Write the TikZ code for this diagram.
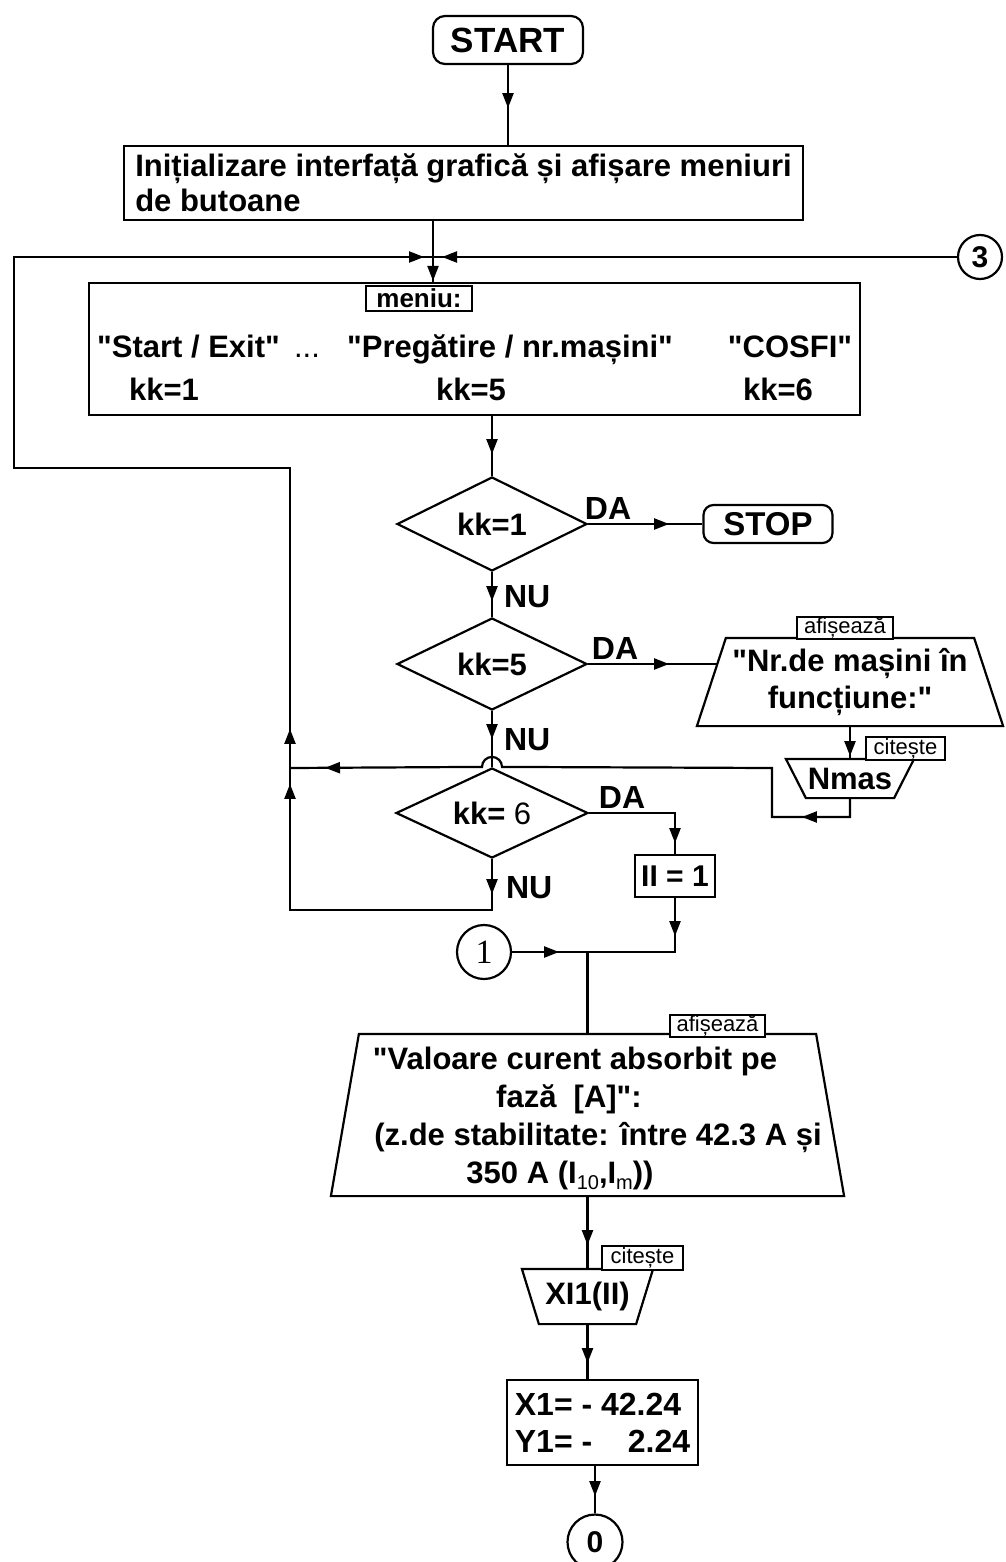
\documentclass[tikz,border=0pt]{standalone}
\usepackage{fontspec}
\setmainfont{Liberation Sans}[Ligatures=TeXOff]
\newfontfamily\numserif{Liberation Serif}
\usetikzlibrary{shapes.geometric,arrows.meta,decorations.markings,calc}

\newcommand{\fsz}[2]{\fontsize{#1}{#2}\selectfont}
\newcommand{\lowsub}[1]{\raisebox{-6pt}{\fsz{20}{20}\mdseries #1}}
\newcommand{\dq}{\symbol{34}}

\begin{document}
\begin{tikzpicture}[x=1pt,y=-1pt,line width=2.2pt,
  font=\fsz{31}{36}\bfseries,
  tri/.tip={Triangle[length=15pt,width=11pt]},
  mk/.style={postaction={decorate,decoration={markings,mark=at position #1 with {\arrow{tri}}}}},
  procbox/.style={draw,rectangle,inner sep=0pt},
  termbox/.style={draw,rectangle,rounded corners=12pt,inner sep=0pt},
  decbox/.style={draw,diamond,aspect=2,inner sep=0pt},
  connbox/.style={draw,circle,inner sep=0pt},
  iobox/.style={rectangle,inner sep=0pt},
  tagbox/.style={draw,rectangle,fill=white,inner sep=0pt,line width=1.6pt,font=\fsz{22}{24}\mdseries},
  lbl/.style={inner sep=0pt,font=\fsz{32}{36}\bfseries},
  txt/.style={inner sep=0pt,anchor=base},
]
\useasboundingbox (0,0) rectangle (1005,1562);

% ---------- terminals and processes ----------
\node[termbox,minimum width=150pt,minimum height=48pt,font=\fsz{35}{40}\bfseries] (start) at (508,40) {START};
\node[procbox,minimum width=679pt,minimum height=74pt,align=left,font=\fsz{31}{35}\bfseries] (init) at (463.5,183)
  {Inițializare interfață grafică și afișare meniuri\\de butoane};

% menu block
\node[procbox,minimum width=771pt,minimum height=132pt] (menu) at (474.5,349) {};
\node[tagbox,minimum width=106pt,minimum height=25pt,font=\fsz{26}{28}\bfseries] (mtag) at (419,298.5) {meniu:};
\node[txt] (m1) at (188.5,357) {\dq Start / Exit\dq};
\node[txt] (m2) at (307,357) {\mdseries ...};
\node[txt] (m3) at (510,357) {\dq Pregătire / nr.mașini\dq};
\node[txt] (m4) at (790,357) {\dq COSFI\dq};
\node[txt] (k1) at (164,400) {kk=1};
\node[txt] (k5) at (471,400) {kk=5};
\node[txt] (k6) at (778,400) {kk=6};

% connector 3
\node[connbox,minimum size=44pt,font=\fsz{30}{32}\bfseries] (c3) at (980,257) {3};

% ---------- decisions ----------
\node[decbox,minimum width=190pt,minimum height=94pt] (d1) at (492,524) {kk=1};
\node[termbox,minimum width=129pt,minimum height=38pt,rounded corners=10pt,font=\fsz{33}{36}\bfseries] (stop) at (768,524) {STOP};
\node[decbox,minimum width=190pt,minimum height=92pt] (d2) at (492,664) {kk=5};
\node[decbox,minimum width=192pt,minimum height=90pt] (d3) at (492,813) {kk= {\mdseries 6}};

\node[lbl,anchor=south] (da1) at (608,521) {DA};
\node[lbl,anchor=west] (nu1) at (503,597) {NU};
\node[lbl,anchor=south] (da2) at (615,661) {DA};
\node[lbl,anchor=west] (nu2) at (503,740) {NU};
\node[lbl,anchor=south] (da3) at (622,810) {DA};
\node[lbl,anchor=west] (nu3) at (505,888) {NU};

% display: number of machines
\node[iobox,minimum width=304pt,minimum height=86pt,align=center,font=\fsz{31}{37}\bfseries] (disp1) at (850,682)
  {\dq Nr.de mașini în\\funcțiune:\dq};
\draw (disp1.south west) -- ($(disp1.north west)+(29,0)$) -- ($(disp1.north east)+(-29,0)$) -- (disp1.south east) -- cycle;
\node[tagbox,minimum width=96pt,minimum height=22pt] (afis1) at (845,628) {afișează};

% read: Nmas
\node[iobox,minimum width=126pt,minimum height=37pt] (read1) at (850,778.5) {Nmas};
\draw (read1.north west) -- (read1.north east) -- ($(read1.south east)+(-20,0)$) -- ($(read1.south west)+(20,0)$) -- cycle;
\node[tagbox,minimum width=79pt,minimum height=23pt] (cit1) at (905.5,748.5) {citește};

% II = 1
\node[procbox,minimum width=80pt,minimum height=42pt,font=\fsz{30}{34}\bfseries] (ii) at (675,876) {II = 1};

% connector 1
\node[connbox,minimum size=54pt,font=\fsz{34}{36}\numserif] (c1) at (484,952) {1};

% display: current
\node[iobox,minimum width=511pt,minimum height=160pt] (disp2) at (587.5,1115) {};
\draw (disp2.south west) -- ($(disp2.north west)+(28,0)$) -- ($(disp2.north east)+(-28,0)$) -- (disp2.south east) -- cycle;
\node[txt] (v1) at (575,1069) {\dq Valoare curent absorbit pe};
\node[txt] (v2) at (569,1107) {fază~~[A]\dq:};
\node[txt] (v3) at (598,1145) {(z.de stabilitate: între 42.3 A și};
\node[txt] (v4) at (560,1183) {350 A (I\lowsub{10},I\lowsub{m}))};
\node[tagbox,minimum width=95pt,minimum height=22pt] (afis2) at (717.5,1026) {afișează};

% read: XI1(II)
\node[iobox,minimum width=129pt,minimum height=53pt] (read2) at (587.5,1296.5) {XI1(II)};
\draw (read2.north west) -- (read2.north east) -- ($(read2.south east)+(-17,0)$) -- ($(read2.south west)+(17,0)$) -- cycle;
\node[tagbox,minimum width=81pt,minimum height=24pt] (cit2) at (642.5,1258) {citește};

% coordinates X1, Y1
\node[procbox,minimum width=191pt,minimum height=85pt,align=left,font=\fsz{32}{37}\bfseries] (xy) at (602.5,1422.5)
  {X1=~-~42.24\\Y1=~-~\hphantom{4}~2.24};

% connector 0
\node[connbox,minimum size=55pt,font=\fsz{30}{32}\bfseries] (c0) at (595,1542) {0};

% ---------- junction and bend points ----------
\coordinate (j0) at (433,257);
\coordinate (lb) at (290,910);
\coordinate (lt) at (290,468);
\coordinate (ll) at (14,468);
\coordinate (lu) at (14,257);
\coordinate (nl) at (772,817);
\coordinate (hj) at (290,768);
\coordinate (j2) at (disp2.north |- c1.east);

% ---------- connectors ----------
\draw[mk=43pt] (start.south) -- (start.south |- init.north);
\draw[mk=-1pt] (init.south -| j0) -- (j0) -- (j0 |- menu.north);
\draw[mk=-9pt] (c3.west) -- (j0);
\draw[mk=38pt] (menu.south -| d1.north) -- (d1.north);
\draw[mk=81pt] (d1.east) -- (d1.east -| stop.west);
\draw[mk=29pt] (d1.south) -- (d2.north);
\draw[mk=81pt] (d2.east) -- ($(d2.east -| disp1.west)+(20.6,0)$);
\draw[mk=28pt] (d2.south) -- (d3.north);
\draw[mk=30pt] (disp1.south) -- (read1.north);
\draw[mk=67pt,mk=-35pt] (read1.south) -- (read1.south |- nl) -- (nl) -- (nl |- hj)
  -- ($(d3.north)+(10,0)$) arc[start angle=0,end angle=180,radius=10pt] -- (hj);
\draw[mk=116pt] (d3.east) -- (d3.east -| ii.north) -- (ii.north);
\draw[mk=35pt,mk=379pt,mk=434pt,mk=-9pt] (d3.south) -- (d3.south |- lb) -- (lb) -- (lt) -- (ll) -- (lu) -- (j0);
\draw[mk=38pt] (ii.south) -- (ii.south |- c1.east) -- (j2);
\draw[mk=47pt] (c1.east) -- (j2);
\draw (j2) -- (disp2.north);
\draw[mk=49pt] (disp2.south) -- (read2.north);
\draw[mk=39pt] (read2.south) -- (read2.south |- xy.north);
\draw[mk=30pt] (c0.north |- xy.south) -- (c0.north);

\end{tikzpicture}
\end{document}
